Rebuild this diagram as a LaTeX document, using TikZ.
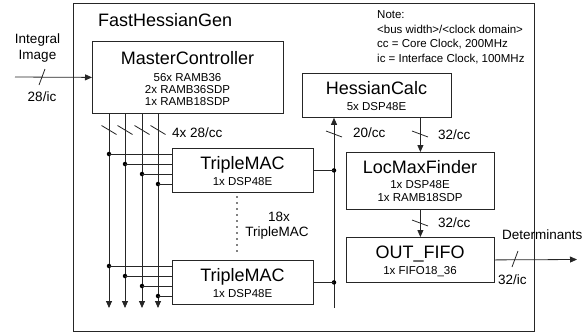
\documentclass[tikz,border=0pt]{standalone}
\usepackage{fontspec}
\setmainfont{Liberation Sans}
\usetikzlibrary{arrows.meta}
\begin{document}
\begin{tikzpicture}[x=1pt,y=-1pt,
  ln/.style={line width=0.8pt, draw=black!85},
  box/.style={draw=black!85, line width=0.8pt, rectangle, inner sep=0pt, anchor=north west},
  big/.style={font=\fontsize{18}{20}\selectfont, inner sep=0pt, text height=12.9pt, text depth=0pt},
  mid/.style={font=\fontsize{13.5}{15}\selectfont, inner sep=0pt, text height=9.7pt, text depth=0pt},
  sml/.style={font=\fontsize{11.5}{13}\selectfont, inner sep=0pt, text height=8.2pt, text depth=0pt},
  arr/.style={ln, -{Triangle[length=7pt,width=6pt]}},
  dot/.style={circle, fill=black, inner sep=0pt, minimum size=4.5pt},
  tdot/.style={circle, fill=black, inner sep=0pt, minimum size=1.8pt}
]
\useasboundingbox (0,0) rectangle (586,333);

% boxes
\node[box, minimum width=461pt, minimum height=328pt] (outer) at (73,3) {};
\node[box, minimum width=191pt, minimum height=72pt] (mc) at (92,41) {};
\node[box, minimum width=149pt, minimum height=44pt] (hc) at (302,73) {};
\node[box, minimum width=148pt, minimum height=57pt] (lm) at (346,152) {};
\node[box, minimum width=148pt, minimum height=45pt] (of) at (346,237) {};
\node[box, minimum width=141pt, minimum height=44pt] (tm1) at (172,148) {};
\node[box, minimum width=141pt, minimum height=44pt] (tm2) at (172,260) {};

% texts
\node[big, anchor=west] (title) at (98,20) {FastHessianGen};
\node[sml, anchor=west] (n1) at (377,14) {Note:};
\node[sml, anchor=west] (n2) at (377,29) {<bus width>/<clock domain>};
\node[sml, anchor=west] (n3) at (377,43) {cc = Core Clock, 200MHz};
\node[sml, anchor=west] (n4) at (377,58) {ic = Interface Clock, 100MHz};

\node[big] (mct) at (187.5,58) {MasterController};
\node[sml] (mc1) at (187.5,77) {56x RAMB36};
\node[sml] (mc2) at (187.5,89) {2x RAMB36SDP};
\node[sml] (mc3) at (187.5,101) {1x RAMB18SDP};

\node[big] (hct) at (376.5,88) {HessianCalc};
\node[sml] (hc1) at (376.5,106) {5x DSP48E};

\node[big] (lmt) at (420,167) {LocMaxFinder};
\node[sml] (lm1) at (420,184) {1x DSP48E};
\node[sml] (lm2) at (420,197) {1x RAMB18SDP};

\node[big] (oft) at (420,252) {OUT\_FIFO};
\node[sml] (of1) at (420,270) {1x FIFO18\_36};

\node[big] (tm1t) at (242.5,163) {TripleMAC};
\node[sml] (tm1s) at (242.5,181) {1x DSP48E};
\node[big] (tm2t) at (242.5,275) {TripleMAC};
\node[sml] (tm2s) at (242.5,293) {1x DSP48E};

\node[mid] (int1) at (37.5,39) {Integral};
\node[mid] (int2) at (37.5,55) {Image};
\node[mid] (l28ic) at (42,97) {28/ic};
\node[mid, anchor=west] (l4x) at (172,133) {4x 28/cc};
\node[mid] (l18a) at (279,217) {18x};
\node[mid] (l18b) at (277,232) {TripleMAC};
\node[mid, anchor=west] (l20) at (353,133) {20/cc};
\node[mid, anchor=west] (l32a) at (438,135) {32/cc};
\node[mid, anchor=west] (l32b) at (438,223) {32/cc};
\node[mid, anchor=west] (ldet) at (502,235) {Determinants};
\node[mid, anchor=west] (l32ic) at (498,280) {32/ic};

% input
\coordinate (in) at (15,77);
\draw[arr] (in) -- (mc.west);
\draw[ln] (39,85) -- (45,69);

% four buses
\foreach \i/\x/\ya/\yb in {1/109/154/266, 2/125/164/276, 3/142/174/286, 4/158/184/296} {
  \coordinate (b\i) at (\x,308);
  \draw[arr] (mc.south -| b\i) -- (b\i);
  \draw[ln] (\x-7.5,125.5) -- (\x+7.5,134.5);
  \node[dot] (da\i) at (\x,\ya) {};
  \node[dot] (db\i) at (\x,\yb) {};
  \draw[ln] (da\i.center) -- (tm1.west |- da\i);
  \draw[ln] (db\i.center) -- (tm2.west |- db\i);
}

% dotted continuation
\foreach \k in {0,...,9} {
  \node[tdot] at (237,197+\k*6) {};
}

% right bus to HessianCalc
\coordinate (bb) at (334,308);
\draw[arr] (bb) -- (bb |- hc.south);
\node[dot] (j1) at (bb |- tm1.east) {};
\node[dot] (j2) at (bb |- tm2.east) {};
\draw[ln] (tm1.east) -- (j1.center);
\draw[ln] (tm2.east) -- (j2.center);
\draw[ln] (326,131) -- (342,137);

% HessianCalc -> LocMaxFinder
\draw[arr] (hc.south -| lm.north) -- (lm.north);
\draw[ln] (412,131) -- (428,137);
% LocMaxFinder -> OUT_FIFO
\draw[arr] (lm.south) -- (of.north);
\draw[ln] (412,220) -- (428,226);

% output
\coordinate (out) at (577,259.5);
\draw[arr] (of.east) -- (out);
\draw[ln] (512,267) -- (518,251);
\end{tikzpicture}
\end{document}
